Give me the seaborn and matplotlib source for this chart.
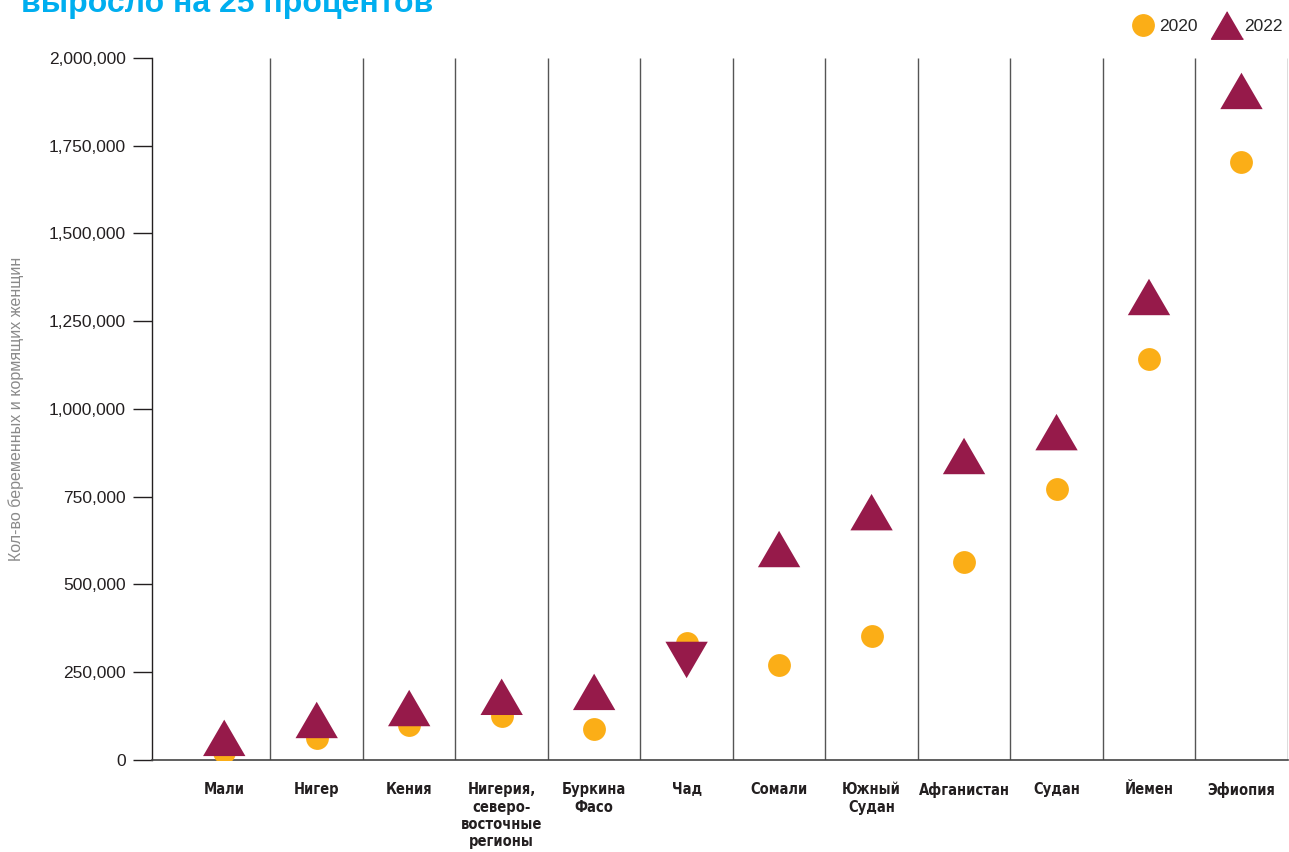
import numpy as np
import pandas as pd
import seaborn as sns
import matplotlib
matplotlib.use("Agg")
import matplotlib.pyplot as plt
from matplotlib.lines import Line2D
from matplotlib.ticker import FuncFormatter

# данные (оценка по рисунку)
countries = ["Мали", "Нигер", "Кения", "Нигерия,\nсеверо-\nвосточные\nрегионы",
             "Буркина\nФасо", "Чад", "Сомали", "Южный\nСудан", "Афганистан",
             "Судан", "Йемен", "Эфиопия"]
vals_2020 = [22000, 63000, 100000, 125000, 88000, 333000, 271000, 353000,
             564000, 772000, 1142000, 1704000]
vals_2022 = [63000, 114000, 148000, 180000, 194000, 285000, 601000, 706000,
             866000, 934000, 1319000, 1906000]
yticks = [0, 250000, 500000, 750000, 1000000, 1250000, 1500000, 1750000, 2000000]

ORANGE = "#FBAE17"
MAROON = "#961A4A"
BLUE = "#00AEEF"

df20 = pd.DataFrame({"country": countries, "value": vals_2020})
df22 = pd.DataFrame({"country": countries, "value": vals_2022})
df22["dir"] = np.where(df22["value"] >= df20["value"], "up", "down")

up_tri = [(0, 0.86), (-1, -0.86), (1, -0.86)]
down_tri = [(0, -0.86), (-1, 0.86), (1, 0.86)]

sns.set_style("white")
plt.rcParams["font.family"] = ["Liberation Sans", "DejaVu Sans"]

fig = plt.figure(figsize=(12.89, 8.52), dpi=100)
ax = fig.add_axes([0.118, 0.108, 0.881, 0.824])

sns.scatterplot(data=df20, x="country", y="value", color=ORANGE, s=270,
                marker="o", linewidth=0, ax=ax, legend=False, zorder=3)
sns.scatterplot(data=df22, x="country", y="value", style="dir",
                markers={"up": up_tri, "down": down_tri}, color=MAROON,
                s=930, linewidth=0, ax=ax, legend=False, zorder=4)

n = len(countries)
ax.set_xlim(-0.78, n - 0.5)
ax.set_ylim(0, 2000000)
ax.vlines(np.arange(n) + 0.5, 0, 2000000, color="#555555", lw=1, zorder=1)

ax.set_yticks(yticks)
ax.yaxis.set_major_formatter(FuncFormatter(lambda v, p: f"{int(v):,}"))
ax.tick_params(axis="y", direction="out", length=14, width=1, color="#231f20",
               labelsize=12.5, labelcolor="#231f20", pad=5, left=True)
ax.tick_params(axis="x", length=0, pad=16)
ax.set_xticks(range(n))
ax.set_xticklabels(countries, family="DejaVu Sans", fontstretch="condensed",
                   fontweight="bold", fontsize=10.5, color="#231f20",
                   linespacing=1.2, va="top")

for side in ["top", "right"]:
    ax.spines[side].set_visible(False)
ax.spines["left"].set_color("#231f20")
ax.spines["bottom"].set_color("#444444")
ax.spines["left"].set_linewidth(1)
ax.spines["bottom"].set_linewidth(1.2)

ax.set_xlabel("")
ax.set_ylabel("Кол-во беременных и кормящих женщин", color="#8a8a8a",
              fontsize=11.5)
ax.yaxis.set_label_coords(-0.113, 0.5)

fig.text(0.016, 0.986, "выросло на 25 процентов", color=BLUE, fontsize=23,
         fontweight="bold", va="baseline", ha="left")

handles = [
    Line2D([], [], marker="o", color=ORANGE, linestyle="", markersize=15.4),
    Line2D([], [], marker=up_tri, color=MAROON, linestyle="", markersize=23),
]
fig.legend(handles, ["2020", "2022"], loc="upper right",
           bbox_to_anchor=(1.003, 0.99), ncol=2, frameon=False,
           handletextpad=0.15, columnspacing=0.9, fontsize=12.5,
           handlelength=1.6, borderaxespad=0.2)

fig.savefig("out.png", dpi=100)
